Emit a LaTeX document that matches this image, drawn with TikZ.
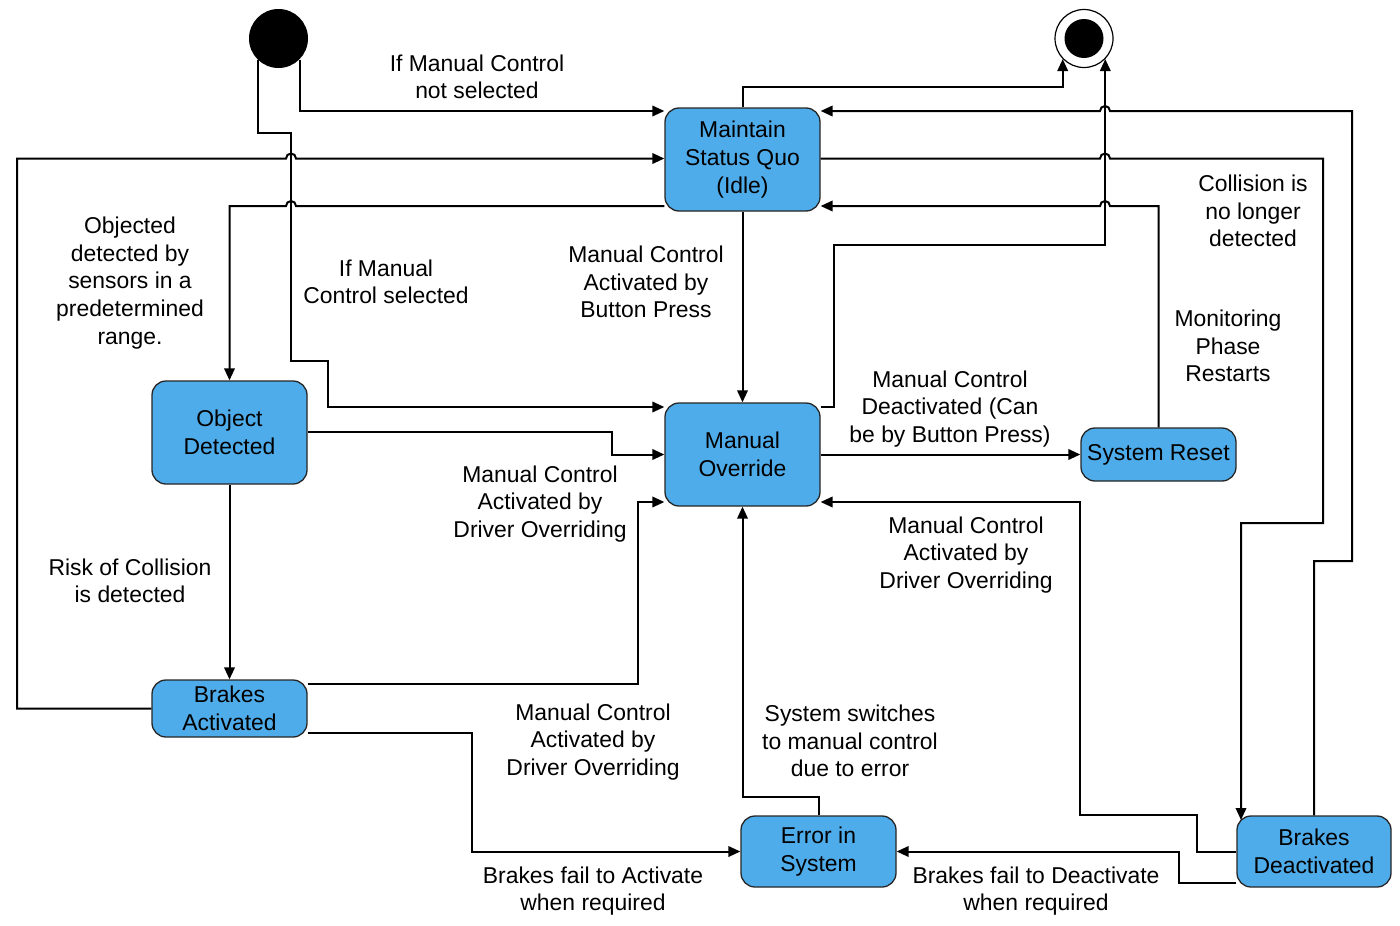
\documentclass[tikz,border=0pt]{standalone}
\usepackage{fontspec}
\setmainfont{Liberation Sans}
\usetikzlibrary{arrows.meta,calc}
\definecolor{stbl}{RGB}{79,172,234}
\newcommand\lblfont{\fontsize{22.9}{27.6}\selectfont}
\begin{document}
\begin{tikzpicture}[x=1pt,y=-1pt,
  state/.style={draw=black!85, line width=1.3pt, fill=stbl, rounded corners=14pt, minimum width=155pt, inner sep=0pt, align=center, font=\lblfont},
  lab/.style={align=center, font=\lblfont, inner sep=0pt},
  edge/.style={line width=2pt, -{Triangle[length=12pt,width=10.5pt]}}]
\useasboundingbox (0,0) rectangle (1400,926);
% states
\node[state, minimum height=103pt] (ms) at (742.5,159.5) {Maintain\\Status Quo\\(Idle)};
\node[state, minimum height=103pt] (mo) at (742.5,454.5) {Manual\\Override};
\node[state, minimum height=103pt] (od) at (229.5,432.5) {Object\\Detected};
\node[state, minimum height=57pt] (ba) at (229.5,708.5) {Brakes\\Activated};
\node[state, minimum height=53pt] (sr) at (1158.5,454.5) {System Reset};
\node[state, minimum height=71pt] (er) at (818.5,851.5) {Error in\\System};
\node[state, minimum height=71pt, minimum width=154pt] (bd) at (1314,851.5) {Brakes\\Deactivated};
\node[circle, fill=black, minimum size=59pt, inner sep=0pt] (ini) at (278.5,38.5) {};
\node[circle, draw=black, line width=1.2pt, fill=white, minimum size=58pt, inner sep=0pt] (fin) at (1084,38.5) {};
\fill (fin.center) circle[radius=19.5pt];
% labels
\node[lab] (l1) at (477,77) {If Manual Control\\not selected};
\node[lab] (l2) at (386,282) {If Manual\\Control selected};
\node[lab] (l3) at (130,283) {Objected\\detected by\\sensors in a\\predetermined\\range.};
\node[lab] (l4) at (646,282) {Manual Control\\Activated by\\Button Press};
\node[lab] (l5) at (1253,211) {Collision is\\no longer\\detected};
\node[lab] (l6) at (1228,346) {Monitoring\\Phase\\Restarts};
\node[lab] (l7) at (950,409) {Manual Control\\Deactivated (Can\\be by Button Press)};
\node[lab] (l8) at (540,504) {Manual Control\\Activated by\\Driver Overriding};
\node[lab] (l9) at (966,555) {Manual Control\\Activated by\\Driver Overriding};
\node[lab] (l10) at (130,581) {Risk of Collision\\is detected};
\node[lab] (l11) at (593,742) {Manual Control\\Activated by\\Driver Overriding};
\node[lab] (l12) at (850,741) {System switches\\to manual control\\due to error};
\node[lab] (l13) at (593,891) {Brakes fail to Activate\\when required};
\node[lab] (l14) at (1036,891) {Brakes fail to Deactivate\\when required};
% edges
\draw[edge] (ini.-45) |- ([yshift=48.5pt]ms.west);
\draw[edge] (ini.-135) |- (291,133) |- (328,361) |- ([yshift=47.5pt]mo.west);
\draw[edge] (ba.west) -| (17,158.5) -- (286,158.5) arc[start angle=180,end angle=0,radius=5pt] -- ([yshift=1pt]ms.west);
\draw[edge] ([yshift=-46.5pt]ms.west) -- (296,206) arc[start angle=0,end angle=180,radius=5pt] -| (od.north);
\draw[edge] (ms.south) -- (mo.north);
\draw[edge] (ms.north) |- ($(fin.-136)+(0,28)$) -- (fin.-136);
\draw[edge] ([yshift=47.5pt]mo.east) -| (834,245) -| (fin.-44);
\draw[edge] (bd.north) |- (1352,561) |- (1110,111) arc[start angle=0,end angle=180,radius=5pt] -- ([yshift=48.5pt]ms.east);
\draw[edge] ([yshift=1pt]ms.east) -- (1100,158.5) arc[start angle=180,end angle=0,radius=5pt] -- (1323,158.5) |- (1241,523) -- (1241,820);
\draw[edge] (sr.north) |- (1110,206) arc[start angle=0,end angle=180,radius=5pt] -- ([yshift=-46.5pt]ms.east);
\draw[edge] ([yshift=0.5pt]od.east) -| (612,454.5) -- (mo.west);
\draw[edge] (mo.east) -- (sr.west);
\draw[edge] ([yshift=24.5pt]ba.east) -| (638,502) -- ([yshift=-47.5pt]mo.west);
\draw[edge] (bd.west) -| (1197,815) -| (1080,502) -- ([yshift=-47.5pt]mo.east);
\draw[edge] ([yshift=-24.5pt]ba.east) -| (472,851.5) -- (er.west);
\draw[edge] (er.north) |- (742.5,797) -- (mo.south);
\draw[edge] ([yshift=-31.5pt]bd.west) -| (1179,851.5) -- (er.east);
\draw[edge] (od.south) -- (ba.north);
\end{tikzpicture}
\end{document}
